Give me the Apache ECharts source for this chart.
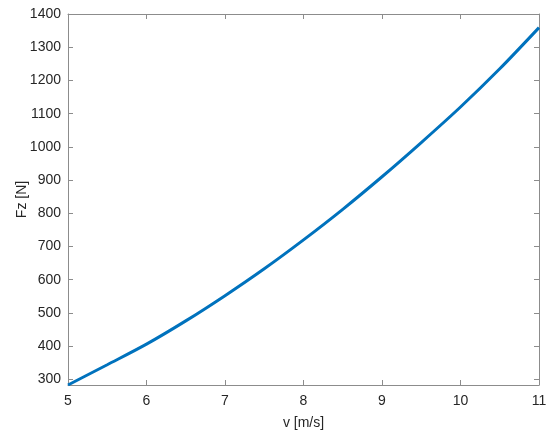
<!DOCTYPE html>
<html>
<head>
<meta charset="utf-8">
<script src="https://cdn.jsdelivr.net/npm/echarts@6/dist/echarts.min.js"></script>
<style>
	html, body { margin: 0; padding: 0; background: #fff; }
	#chart { width: 550px; height: 440px; }
</style>
</head>
<body>
<div id="chart"></div>
<script>
// speed v [m/s] and force Fz [N]
const speed = [5, 5.5, 6, 6.5, 7, 7.5, 8, 8.5, 9, 9.5, 10, 10.5, 11]
const force = [283, 344, 406, 476, 552, 633, 720, 812, 910, 1013, 1120, 1235, 1359]
const xTicks = [5, 6, 7, 8, 9, 10, 11]
const yTicks = [300, 400, 500, 600, 700, 800, 900, 1000, 1100, 1200, 1300, 1400]

const chart = echarts.init(document.getElementById('chart'))

const axisColor = '#8c8c8c'
const textColor = '#262626'
const font = 'Liberation Sans, Arial, sans-serif'

function boxAxis(extra) {
	return Object.assign({
		type: 'value',
		axisLine: { show: true, onZero: false, lineStyle: { color: axisColor, width: 1 } },
		axisTick: { show: true, inside: true, length: 5, lineStyle: { color: axisColor } },
		splitLine: { show: false },
		axisLabel: { show: false }
	}, extra)
}

const options = {
	animation: false,
	grid: { left: 68, right: 11, top: 14, bottom: 55, containLabel: false, outerBoundsMode: 'none' },
	xAxis: [
		boxAxis({
			position: 'bottom',
			min: 5,
			max: 11,
			interval: 1,
			name: 'v [m/s]',
			nameLocation: 'middle',
			nameGap: 31,
			nameMoveOverlap: false,
			nameTextStyle: { color: textColor, fontSize: 14, fontFamily: font },
			axisLabel: { show: true, customValues: xTicks, color: textColor, fontSize: 14, fontFamily: font, margin: 9, formatter: v => String(v) }
		}),
		boxAxis({ position: 'top', min: 5, max: 11, interval: 1 })
	],
	yAxis: [
		boxAxis({
			position: 'left',
			min: 283,
			max: 1400,
			name: 'Fz [N]',
			nameLocation: 'middle',
			nameGap: 39,
			nameMoveOverlap: false,
			nameTextStyle: { color: textColor, fontSize: 14, fontFamily: font },
			axisTick: { show: true, inside: true, length: 5, customValues: yTicks, lineStyle: { color: axisColor } },
			axisLabel: { show: true, customValues: yTicks, color: textColor, fontSize: 14, fontFamily: font, margin: 7, formatter: v => String(v) }
		}),
		boxAxis({
			position: 'right',
			min: 283,
			max: 1400,
			axisTick: { show: true, inside: true, length: 5, customValues: yTicks, lineStyle: { color: axisColor } }
		})
	],
	series: [
		{
			type: 'line',
			data: speed.map((v, i) => [v, force[i]]),
			smooth: 0.3,
			symbol: 'none',
			lineStyle: { color: '#0072BD', width: 3 }
		}
	]
}
chart.setOption(options)
</script>
</body>
</html>
